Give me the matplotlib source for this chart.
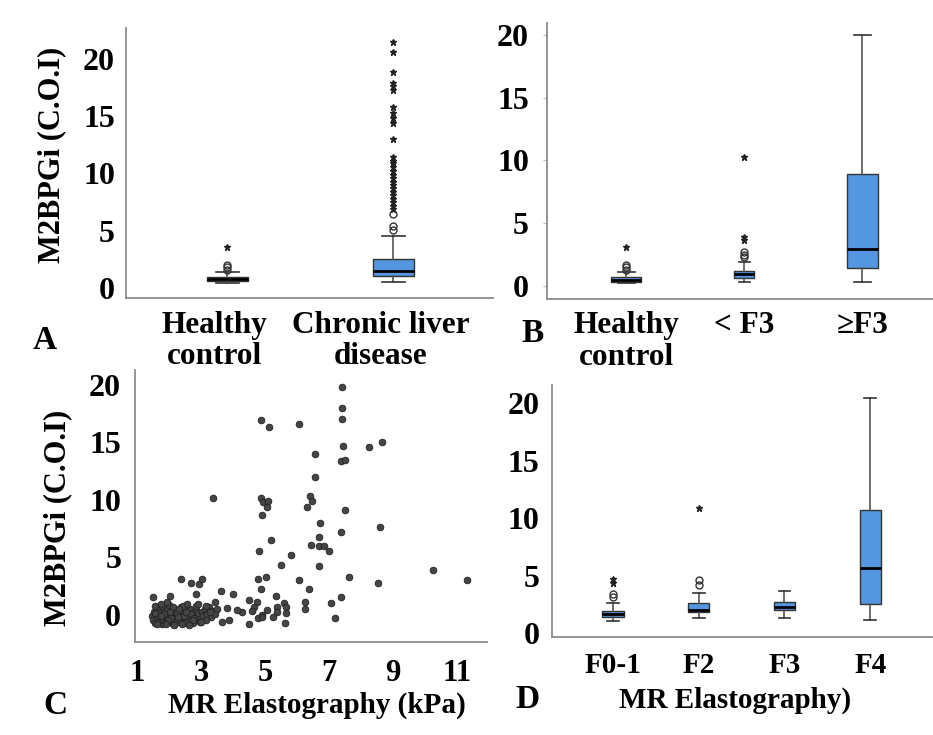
import matplotlib
matplotlib.use("Agg")
import matplotlib.pyplot as plt
import matplotlib.transforms as mtransforms

plt.rcParams['font.family'] = ['Liberation Serif', 'DejaVu Serif']
plt.rcParams['font.weight'] = 'bold'

W, H = 933, 735
BLUE = '#5596e0'
SPINE = '#8c8c8c'
FS = 21
YFS = 23

# ---- panel A: healthy vs chronic liver disease
a_labels = ['Healthy\ncontrol', 'Chronic liver\ndisease']
a_whislo = [0.4, 0.55]
a_q1 = [0.6, 1.05]
a_med = [0.8, 1.5]
a_q3 = [0.95, 2.5]
a_whishi = [1.4, 4.5]
a_circles = [[1.6, 1.8, 2.0], [5.1, 5.4, 6.5]]
a_stars = [[3.6],
           [6.9, 7.2, 7.5, 7.8, 8.1, 8.4, 8.7, 9.0, 9.3, 9.6, 9.9, 10.2, 10.6,
            10.9, 11.1, 11.4, 13.0, 14.4, 14.8, 15.3, 15.8, 17.3, 17.6, 17.9,
            18.9, 20.6, 21.5]]

# ---- panel B: healthy, < F3, >= F3
b_labels = ['Healthy\ncontrol', '< F3', '≥F3']
b_whislo = [0.2, 0.3, 0.3]
b_q1 = [0.35, 0.65, 1.45]
b_med = [0.5, 0.95, 2.95]
b_q3 = [0.7, 1.2, 8.9]
b_whishi = [1.1, 1.9, 20.0]
b_circles = [[1.3, 1.5, 1.7], [2.3, 2.5, 2.7], []]
b_stars = [[3.1], [3.7, 3.9, 10.3], []]

# ---- panel C: scatter M2BPGi vs MR elastography
c_x = [1.47, 1.50, 1.53, 1.56, 1.60, 1.62, 1.66, 1.69, 1.72, 1.75, 1.78, 1.80,
       1.83, 1.86, 1.88, 1.91, 1.94, 1.97, 2.00, 2.02, 2.05, 2.08, 2.11, 2.14,
       2.17, 2.20, 2.23, 2.26, 2.29, 2.32, 2.35, 2.38, 2.41, 2.44, 2.47, 2.50,
       2.53, 2.56, 2.59, 2.62, 2.66, 2.69, 2.72, 2.76, 2.80, 2.84, 2.88, 2.92,
       2.97, 3.02, 3.07, 3.12, 3.18, 3.24, 3.30, 3.36, 1.58, 1.74, 1.95, 2.12,
       2.45, 2.55, 2.85, 1.68, 1.84, 2.06, 2.24, 2.48, 2.68, 1.98, 2.33, 2.78,
       3.15, 1.55, 2.90, 3.45, 3.50, 1.64, 1.90, 2.16, 2.40, 2.64, 1.76, 2.02,
       2.28, 2.52, 2.74,
       7.40, 7.40, 7.40, 4.87, 5.13, 6.06, 7.45, 8.24, 8.65, 6.56, 7.37, 7.50,
       6.56, 3.37, 4.87, 4.93, 5.11, 5.08, 4.92, 6.42, 6.47, 6.32, 7.50, 6.72,
       8.59, 7.38, 5.20, 6.70, 6.43, 6.70, 6.84, 7.00, 4.81, 5.83, 5.51, 6.70,
       10.26, 2.38, 2.69, 2.95, 3.02, 4.77, 5.04, 6.06, 7.63, 8.52, 4.89, 6.38,
       2.85, 3.63, 4.01, 1.49, 2.03, 5.34, 7.37, 4.49, 4.75, 5.60, 6.25, 7.08,
       6.25, 5.66, 5.37, 4.65, 5.07, 4.59, 5.66, 5.37, 5.26, 4.77, 4.90, 4.92,
       4.49, 5.62, 7.19, 3.88, 3.65, 4.27, 4.14, 3.80, 3.44, 3.17, 3.28, 2.99,
       11.3]
c_y = [-0.05, -0.45, 0.30, -0.70, 0.05, -0.30, 0.45, -0.55, 0.15, -0.20, -0.78,
       0.60, -0.40, 0.25, -0.05, -0.65, 0.40, -0.25, 0.85, 0.05, -0.55, 0.30,
       -0.15, -0.75, 0.50, -0.35, 0.10, -0.60, 0.35, -0.10, -0.45, 0.65, 0.00,
       -0.70, 0.25, -0.30, 0.45, -0.55, 0.10, -0.15, 0.55, -0.40, 0.20, -0.70,
       0.00, 0.40, -0.35, 0.15, -0.60, 0.30, -0.10, 0.55, 0.05, 0.70, -0.20,
       0.35, 0.75, 0.95, 1.10, 0.70, 0.80, 0.95, 0.75, -0.10, 0.10, -0.30, 0.20,
       -0.10, 0.05, -0.45, 0.55, -0.25, -0.40, 0.15, 0.95, 0.10, 0.55, -0.82,
       -0.80, -0.84, -0.79, -0.83, -0.05, 0.25, -0.20, 0.30, -0.45,
       19.85, 18.03, 17.0, 16.93, 16.38, 16.6, 14.7, 14.64, 15.04, 14.0, 13.42,
       13.48, 11.97, 10.2, 10.14, 9.8, 9.94, 9.36, 8.67, 10.35, 9.94, 9.39, 9.1,
       8.03, 7.68, 7.22, 6.49, 6.75, 6.12, 5.97, 6.0, 5.59, 5.59, 5.22, 4.35,
       4.23, 3.94, 3.16, 2.75, 2.70, 3.13, 3.13, 3.28, 3.01, 3.28, 2.81, 2.23,
       2.23, 1.83, 2.11, 1.84, 1.57, 1.65, 1.62, 1.59, 1.33, 1.16, 1.07, 1.13,
       1.07, 0.55, 0.67, 0.72, 0.72, 0.43, 0.38, 0.20, 0.26, -0.2, -0.28, 0.0,
       -0.2, -0.78, -0.72, -0.23, -0.43, -0.64, 0.26, 0.43, 0.64, 1.16, 0.81,
       0.29, -0.62,
       3.0]
c_xticks = [1, 3, 5, 7, 9, 11]

# ---- panel D: MRE fibrosis stage
d_labels = ['F0-1', 'F2', 'F3', 'F4']
d_whislo = [1.07, 1.27, 1.27, 1.13]
d_q1 = [1.39, 1.8, 2.0, 2.5]
d_med = [1.65, 2.0, 2.3, 5.62]
d_q3 = [1.91, 2.58, 2.67, 10.7]
d_whishi = [2.58, 3.45, 3.68, 20.46]
d_circles = [[3.1, 3.4], [4.2, 4.6], [], []]
d_stars = [[4.35, 4.7], [10.9], [], []]

yticks = [0, 5, 10, 15, 20]


def px_axes(fig, left, top, right, bottom):
    return fig.add_axes([left / W, 1 - bottom / H, (right - left) / W, (bottom - top) / H])


def style(ax):
    for s in ['top', 'right']:
        ax.spines[s].set_visible(False)
    for s in ['left', 'bottom']:
        ax.spines[s].set_color(SPINE)
        ax.spines[s].set_linewidth(1.3)
    ax.set_yticks(yticks)
    ax.tick_params(length=0)
    ax.tick_params(axis='y', labelsize=YFS)


def boxes(ax, labels, whislo, q1, med, q3, whishi, circles, stars, widths, fs):
    stats = []
    for i in range(len(labels)):
        stats.append({'whislo': whislo[i], 'q1': q1[i], 'med': med[i],
                      'q3': q3[i], 'whishi': whishi[i], 'fliers': []})
    pos = list(range(1, len(labels) + 1))
    caps = [w * 0.55 for w in widths]
    ax.bxp(stats, positions=pos, widths=widths, capwidths=caps,
           patch_artist=True, showfliers=False,
           boxprops=dict(facecolor=BLUE, edgecolor='#333333', linewidth=1),
           medianprops=dict(color='black', linewidth=2),
           whiskerprops=dict(color='#555555', linewidth=1.2),
           capprops=dict(color='#333333', linewidth=1.2))
    for i, p in enumerate(pos):
        if circles[i]:
            ax.plot([p] * len(circles[i]), circles[i], 'o', mfc='none',
                    mec='#333333', ms=5, mew=1)
        if stars[i]:
            ax.plot([p] * len(stars[i]), stars[i], '*', color='#222222', ms=5)
    ax.set_xticks(pos)
    ax.set_xticklabels(labels, linespacing=1.1, fontsize=fs)


fig = plt.figure(figsize=(W / 100, H / 100), dpi=100)

# A
axA = px_axes(fig, 126, 28, 493, 298)
boxes(axA, a_labels, a_whislo, a_q1, a_med, a_q3, a_whishi, a_circles, a_stars, [0.25, 0.25], 22.5)
style(axA)
axA.set_xlim(0.39, 2.6)
axA.set_ylim(-0.87, 22.7)
axA.tick_params(axis='y', pad=8)
axA.tick_params(axis='x', pad=9)
shift = mtransforms.ScaledTranslation(-13 / 100, 0, fig.dpi_scale_trans)
for lab in axA.get_xticklabels():
    lab.set_transform(lab.get_transform() + shift)

# B
axB = px_axes(fig, 547, 23, 933, 299)
boxes(axB, b_labels, b_whislo, b_q1, b_med, b_q3, b_whishi, b_circles, b_stars, [0.26, 0.17, 0.26], 22.5)
style(axB)
axB.set_xlim(0.33, 3.6)
axB.set_ylim(-1.04, 20.96)
axB.tick_params(axis='y', pad=10, length=3, color='#bbbbbb')
axB.tick_params(axis='x', pad=9)

# C
axC = px_axes(fig, 135, 370, 487, 642)
axC.scatter(c_x, c_y, s=23, color='#454545', edgecolor='#222222', linewidth=0.6, zorder=3)
style(axC)
axC.set_xticks(c_xticks)
axC.set_xlim(0.94, 11.94)
axC.set_ylim(-2.35, 21.3)
axC.tick_params(axis='y', pad=10)
axC.tick_params(axis='x', pad=12, labelsize=22)

# D
axD = px_axes(fig, 552, 385, 932, 637)
boxes(axD, d_labels, d_whislo, d_q1, d_med, d_q3, d_whishi, d_circles, d_stars, [0.25] * 4, FS)
style(axD)
axD.set_xlim(0.29, 4.72)
axD.set_ylim(-0.35, 21.6)
axD.tick_params(axis='y', pad=9)
axD.tick_params(axis='x', pad=11)

# titles / panel letters
fig.text(52 / W, 1 - 155 / H, 'M2BPGi (C.O.I)', rotation=90, fontsize=22,
         ha='center', va='center')
fig.text(58 / W, 1 - 518 / H, 'M2BPGi (C.O.I)', rotation=90, fontsize=22,
         ha='center', va='center')
fig.text(317 / W, 1 - 705 / H, 'MR Elastography (kPa)', fontsize=FS, ha='center', va='center')
fig.text(735 / W, 1 - 700 / H, 'MR Elastography)', fontsize=FS, ha='center', va='center')
for letter, x, y in [('A', 45, 340), ('B', 533, 333), ('C', 55, 705), ('D', 528, 700)]:
    fig.text(x / W, 1 - y / H, letter, fontsize=24, ha='center', va='center')

fig.savefig('out.png', dpi=100)
